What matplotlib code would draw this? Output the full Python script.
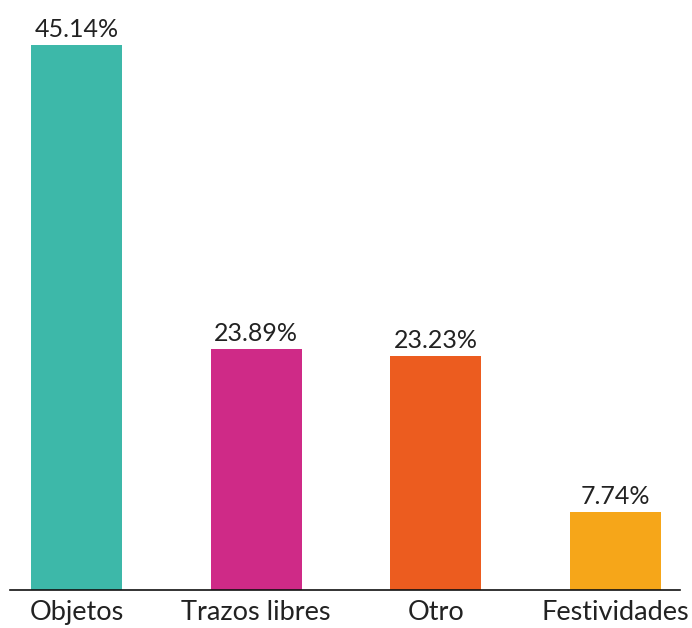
import matplotlib.pyplot as plt

# bar heights as drawn in the picture, label texts as printed
categorias = ["Objetos", "Trazos libres", "Otro", "Festividades"]
alturas = [54.14, 23.89, 23.23, 7.74]
etiquetas = ["45.14%", "23.89%", "23.23%", "7.74%"]
colores = ["#3db8a9", "#cf2a87", "#ec5c1f", "#f6a619"]

fuente = ["Lato", "DejaVu Sans"]

fig = plt.figure(figsize=(6.92, 6.28), dpi=100)
ax = fig.add_axes([10 / 692, 38 / 628, 670 / 692, 590 / 628])

x = range(len(categorias))
barras = ax.bar(x, alturas, width=0.507, color=colores)

for b, t in zip(barras, etiquetas):
    ax.annotate(t, (b.get_x() + b.get_width() / 2, b.get_height()),
                xytext=(0, 3), textcoords="offset points", ha="center", va="bottom",
                fontsize=18, fontfamily=fuente, color="#222222", clip_on=False)

ax.set_xlim(-0.37, 3.36)
ax.set_ylim(0, 58.6)
ax.set_xticks(list(x))
ax.set_xticklabels(categorias, fontsize=19.5, fontfamily=fuente, color="#222222")
ax.tick_params(axis="x", length=0, pad=7)
ax.set_yticks([])
for s in ["top", "right", "left"]:
    ax.spines[s].set_visible(False)
ax.spines["bottom"].set_linewidth(1.2)
ax.spines["bottom"].set_color("#111111")

fig.savefig("out.png", dpi=100)
